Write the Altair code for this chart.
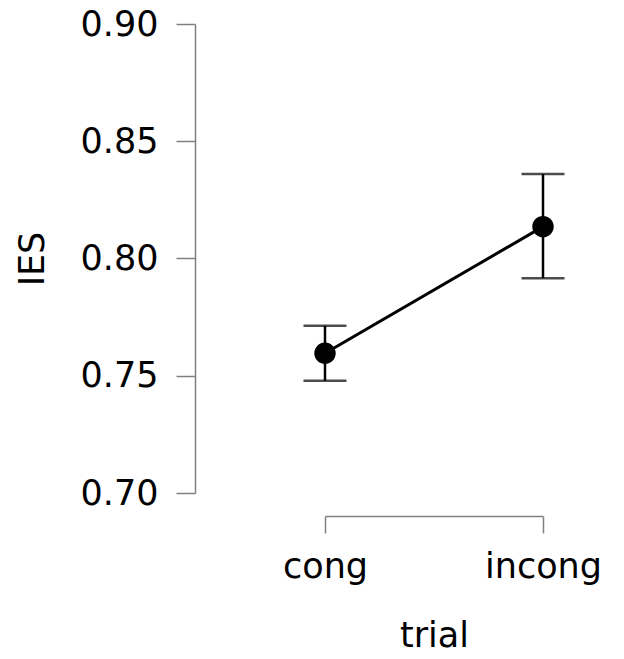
import altair as alt
import pandas as pd

trial = ["cong", "incong"]
ies = [0.7596, 0.8136]
lower = [0.7479, 0.7916]
upper = [0.7713, 0.836]

df = pd.DataFrame({"trial": trial, "IES": ies, "lo": lower, "hi": upper})

FONT = "DejaVu Sans"
AX = "#808080"

x = alt.X("trial:N", title="trial",
          scale=alt.Scale(type="point", padding=0),
          axis=alt.Axis(offset=23, tickSize=17, labelPadding=16, labelAngle=0,
                        titlePadding=34, domainColor=AX, tickColor=AX, domainWidth=1.5, tickWidth=1.5))
y = alt.Y("IES:Q", title="IES",
          scale=alt.Scale(domain=[0.70, 0.90], nice=False, zero=False),
          axis=alt.Axis(values=[0.70, 0.75, 0.80, 0.85, 0.90], format=".2f", offset=130,
                        tickSize=19, labelPadding=18, titlePadding=30, grid=False,
                        domainColor=AX, tickColor=AX, domainWidth=1.5, tickWidth=1.5))

base = alt.Chart(df)
line = base.mark_line(color="black", strokeWidth=3).encode(x=x, y=y)
rule = base.mark_rule(color="black", strokeWidth=2.5).encode(x=x, y="lo:Q", y2="hi:Q")
caps_lo = base.mark_tick(color="black", size=43, thickness=2.5).encode(x=x, y="lo:Q")
caps_hi = base.mark_tick(color="black", size=43, thickness=2.5).encode(x=x, y="hi:Q")
pts = base.mark_circle(color="black", size=460, opacity=1).encode(x=x, y=y)

chart = alt.layer(line, rule, caps_lo, caps_hi, pts).properties(
    width=218, height=469,
    autosize=alt.AutoSizeParams(type="none"),
    padding={"left": 325, "top": 24, "right": 81, "bottom": 166},
).configure_view(stroke=None).configure_axis(
    labelFont=FONT, titleFont=FONT, labelFontSize=35, titleFontSize=35,
    labelColor="black", titleColor="black", titleFontWeight="normal",
)

chart.save("out.html", embed_options={"renderer": "svg", "actions": False})
